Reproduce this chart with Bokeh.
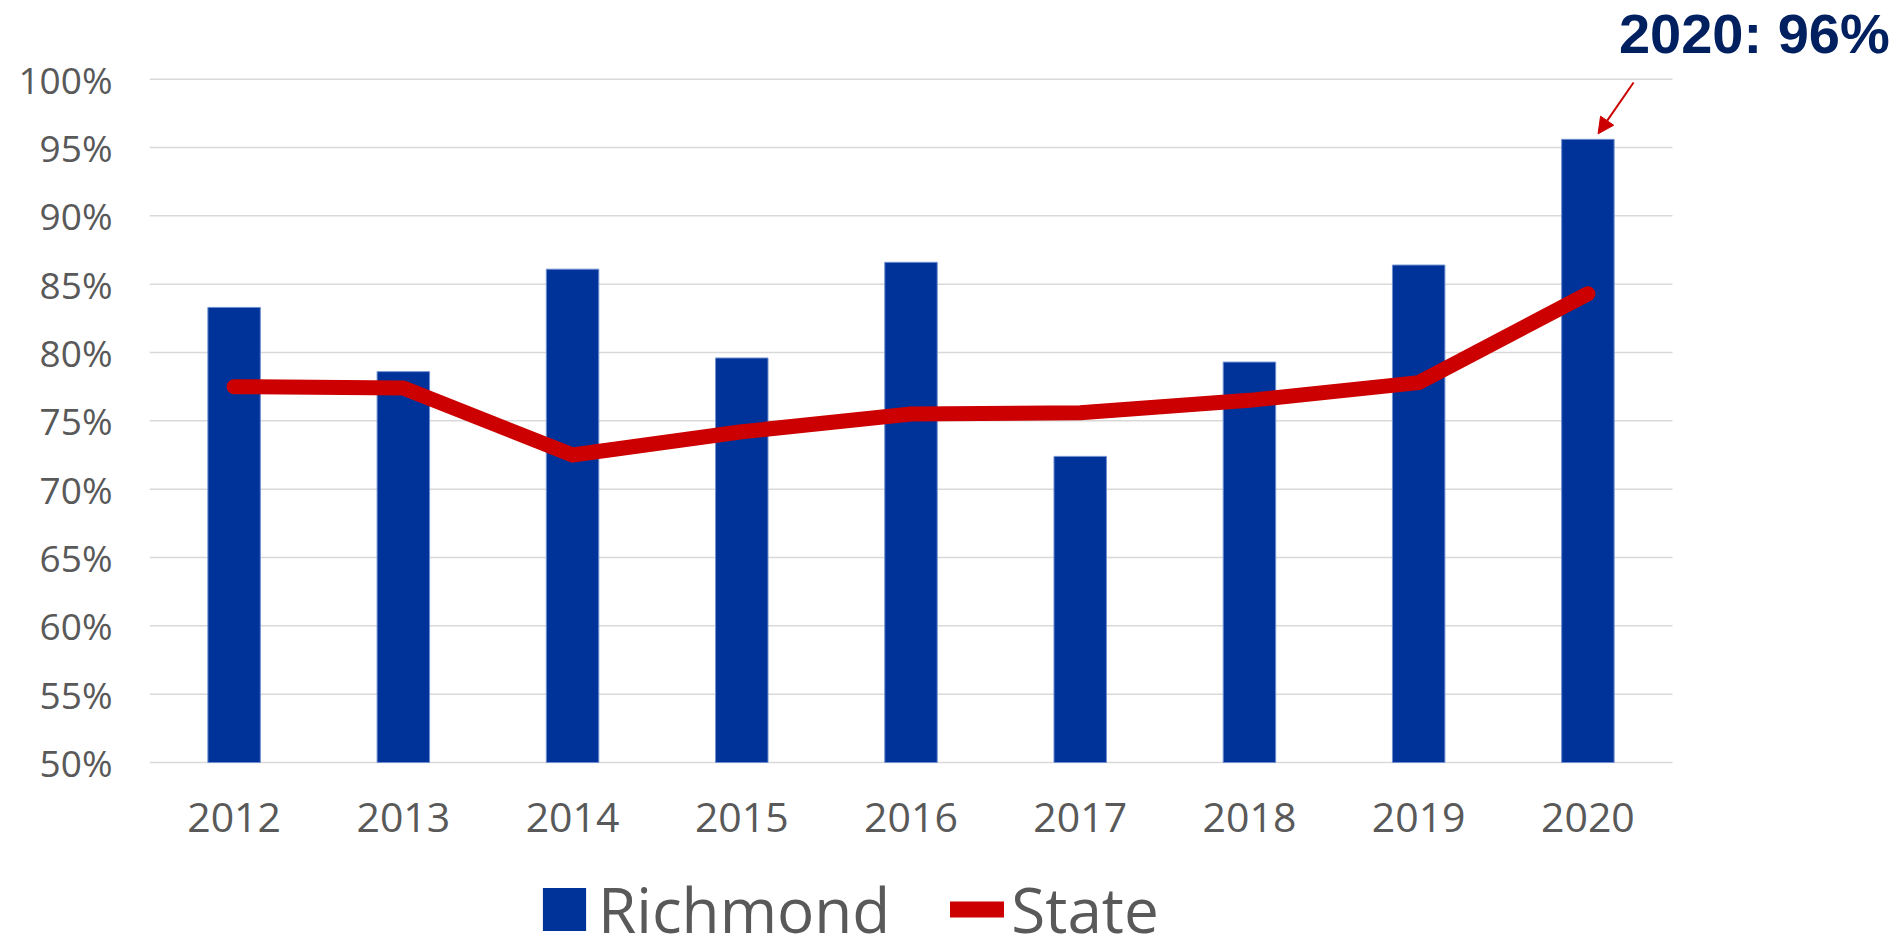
from bokeh.plotting import figure
from bokeh.layouts import column
from bokeh.models import (ColumnDataSource, FixedTicker, NumeralTickFormatter, Range1d,
                          Legend, LegendItem, Label, Arrow, NormalHead)
from bokeh.embed import file_html
from bokeh.resources import INLINE

# ---- data ----
years = [2012, 2013, 2014, 2015, 2016, 2017, 2018, 2019, 2020]
richmond = [0.833, 0.786, 0.861, 0.796, 0.866, 0.724, 0.793, 0.864, 0.956]
state = [0.775, 0.774, 0.725, 0.742, 0.755, 0.756, 0.765, 0.778, 0.843]
y_ticks = [0.50, 0.55, 0.60, 0.65, 0.70, 0.75, 0.80, 0.85, 0.90, 0.95, 1.00]
series_names = ["Richmond", "State"]

BLUE = "#003399"
RED = "#CC0000"
NAVY = "#002060"
GRAY = "#595959"
GRID = "#d9d9d9"
FONT = "Open Sans"

# ---- layout (pixels) ----
W = 1903
MAIN_H, LEG_H = 862, 89
FRAME_L = 149            # left edge of plot area
PLOT_W = 1523            # width of the gridded plot area
PLOT_TOP = 78.7          # y of the 100% gridline
PLOT_H = 683.3           # 100% -> 50% distance
BOTTOM = 98              # space below the frame for the year labels

px_cat = PLOT_W / len(years)
px_unit = PLOT_H / (y_ticks[-1] - y_ticks[0])
frame_h = MAIN_H - BOTTOM
x_lo, x_hi = years[0] - 0.5, years[-1] + 0.5
y_lo = y_ticks[0] - (frame_h - PLOT_TOP - PLOT_H) / px_unit
y_hi = y_lo + frame_h / px_unit
x_end = x_lo + (W - FRAME_L) / px_cat

src = ColumnDataSource(dict(year=years, richmond=richmond, state=state))
grid_src = ColumnDataSource(dict(y=y_ticks, x0=[x_lo] * len(y_ticks), x1=[x_hi] * len(y_ticks)))

p = figure(width=W, height=MAIN_H,
           x_range=Range1d(x_lo, x_end), y_range=Range1d(y_lo, y_hi),
           output_backend="svg", toolbar_location=None,
           min_border_left=FRAME_L, min_border_right=0,
           min_border_top=0, min_border_bottom=BOTTOM, frame_align=False,
           background_fill_color="white", border_fill_color="white")
p.outline_line_color = None
p.grid.grid_line_color = None

# horizontal gridlines limited to the plot area
p.segment(x0="x0", x1="x1", y0="y", y1="y", source=grid_src,
          line_color=GRID, line_width=1.5)

bars = p.vbar(x="year", top="richmond", bottom=y_ticks[0], width=0.31, source=src,
              fill_color=BLUE, line_color="#6f8fd0", line_width=1)
line = p.line(x="year", y="state", source=src, line_color=RED, line_width=15,
              line_cap="round", line_join="round")

p.xaxis.ticker = FixedTicker(ticks=years)
p.xaxis.major_label_text_font = FONT
p.xaxis.major_label_text_font_size = "41px"
p.xaxis.major_label_text_color = GRAY
p.xaxis.axis_line_color = None
p.xaxis.major_tick_line_color = None
p.xaxis.minor_tick_line_color = None
p.xaxis.major_tick_out = 0
p.xaxis.major_label_standoff = 38

p.yaxis.ticker = FixedTicker(ticks=y_ticks)
p.yaxis.formatter = NumeralTickFormatter(format="0%")
p.yaxis.major_label_text_font = FONT
p.yaxis.major_label_text_font_size = "37px"
p.yaxis.major_label_text_color = GRAY
p.yaxis.axis_line_color = None
p.yaxis.major_tick_line_color = None
p.yaxis.minor_tick_line_color = None
p.yaxis.major_tick_out = 0
p.yaxis.major_label_standoff = 37

# callout for the last year
p.add_layout(Arrow(end=NormalHead(size=16, fill_color=RED, line_color=RED),
                   x_start=years[-1] + 0.27, y_start=y_ticks[-1] - 0.0024,
                   x_end=years[-1] + 0.06, y_end=richmond[-1] + 0.004,
                   line_color=RED, line_width=2))
p.add_layout(Label(x=years[-1], y=y_ticks[-1], x_offset=31, y_offset=46,
                   text=f"{years[-1]}: {round(richmond[-1] * 100)}%",
                   text_font="Liberation Sans", text_font_style="bold",
                   text_font_size="56px", text_color=NAVY,
                   text_baseline="alphabetic", text_align="left"))

# ---- legend strip (swatch renderers use the same series, kept out of view) ----
leg = figure(width=W, height=LEG_H, x_range=Range1d(0, W), y_range=Range1d(0, LEG_H),
             output_backend="svg", toolbar_location=None, min_border=0,
             x_axis_location=None, y_axis_location=None, frame_align=False)
leg.outline_line_color = None
leg.grid.grid_line_color = None
r_bar = leg.vbar(x="year", top="richmond", width=0.31, source=src,
                 fill_color=BLUE, line_color=None)
r_line = leg.line(x="year", y="state", source=src, line_color=RED, line_width=16,
                  line_cap="round")
legend = Legend(items=[LegendItem(label=series_names[0], renderers=[r_bar]),
                       LegendItem(label=series_names[1], renderers=[r_line])],
                orientation="horizontal", location=(537, 0),
                label_text_font=FONT, label_text_font_size="62px",
                label_text_color=GRAY, glyph_width=54, glyph_height=54,
                label_standoff=7, spacing=60, padding=0, margin=0,
                border_line_color=None, background_fill_alpha=0)
leg.add_layout(legend)

layout = column(p, leg, spacing=0)
open("out.html", "w").write(file_html(layout, INLINE))
